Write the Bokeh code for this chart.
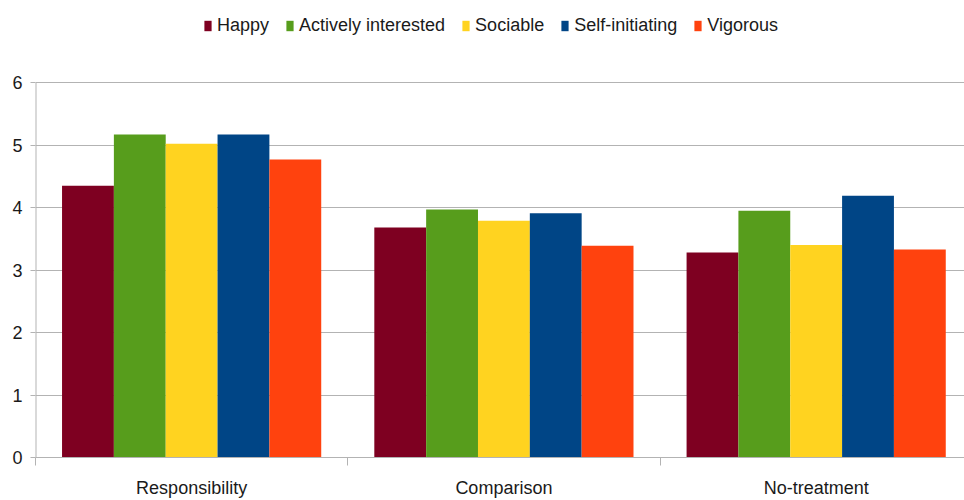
from bokeh.plotting import figure
from bokeh.models import ColumnDataSource, FixedTicker, Range1d, Legend, LegendItem
from bokeh.transform import dodge
from bokeh.embed import file_html
from bokeh.resources import INLINE

# Mean ratings per treatment group
categories = ["Responsibility", "Comparison", "No-treatment"]
series = ["Happy", "Actively interested", "Sociable", "Self-initiating", "Vigorous"]
happy = [4.35, 3.68, 3.28]
actively_interested = [5.17, 3.97, 3.95]
sociable = [5.02, 3.79, 3.40]
self_initiating = [5.17, 3.91, 4.19]
vigorous = [4.77, 3.39, 3.33]
y_ticks = [0, 1, 2, 3, 4, 5, 6]

colors = ["#7e0021", "#579d1c", "#ffd320", "#004586", "#ff420e"]
FONT = "Liberation Sans, Arial, sans-serif"
TEXT = "#1a1a1a"
GRID = "#b3b3b3"

source = ColumnDataSource(dict(
    pos=[i + 0.5 for i in range(len(categories))],
    happy=happy,
    actively_interested=actively_interested,
    sociable=sociable,
    self_initiating=self_initiating,
    vigorous=vigorous,
))
columns = ["happy", "actively_interested", "sociable", "self_initiating", "vigorous"]

# The frame reaches the top of the canvas so the legend can sit above the
# value scale; only 0..6 carry ticks and grid lines.
p = figure(width=964, height=500, output_backend="svg", toolbar_location=None,
           x_range=Range1d(0, 2.975), y_range=Range1d(0, 7.312),
           min_border_left=35, min_border_right=0, min_border_top=0,
           min_border_bottom=43)
p.outline_line_color = None
p.background_fill_color = "white"
p.border_fill_color = "white"

bar_w = 0.166
items = []
for j, (col, name, color) in enumerate(zip(columns, series, colors)):
    r = p.vbar(x=dodge("pos", (j - 2) * bar_w, range=p.x_range), top=col, bottom=0,
               width=bar_w, source=source, fill_color=color, line_color=None)
    items.append(LegendItem(label=name, renderers=[r]))

# vertical axis line only over the value scale
p.segment(x0=0, y0=0, x1=0, y1=y_ticks[-1], line_color=GRID, line_width=2)

# y axis
p.yaxis.ticker = FixedTicker(ticks=y_ticks)
p.yaxis.axis_line_color = None
p.yaxis.major_tick_line_color = GRID
p.yaxis.major_tick_out = 5
p.yaxis.major_tick_in = 0
p.yaxis.minor_tick_line_color = None
p.yaxis.major_label_standoff = 8
p.yaxis.major_label_text_font = FONT
p.yaxis.major_label_text_font_size = "18px"
p.yaxis.major_label_text_color = TEXT

# x axis: labels at group centres, separator ticks between groups
p.xaxis.ticker = FixedTicker(ticks=[0.5, 1.5, 2.5], minor_ticks=[0, 1, 2, 3])
p.xaxis.major_label_overrides = {0.5: categories[0], 1.5: categories[1], 2.5: categories[2]}
p.xaxis.axis_line_color = GRID
p.xaxis.major_tick_line_color = None
p.xaxis.major_tick_out = 0
p.xaxis.major_tick_in = 0
p.xaxis.minor_tick_line_color = GRID
p.xaxis.minor_tick_out = 8
p.xaxis.minor_tick_in = 0
p.xaxis.major_label_standoff = 12
p.xaxis.major_label_text_font = FONT
p.xaxis.major_label_text_font_size = "18px"
p.xaxis.major_label_text_color = TEXT

p.xgrid.grid_line_color = None
p.ygrid.grid_line_color = GRID
p.ygrid.grid_line_width = 1

legend = Legend(items=items, orientation="horizontal", location=(168, 421),
                glyph_width=9, glyph_height=13, label_standoff=5, spacing=16,
                padding=0, margin=0, border_line_color=None,
                background_fill_alpha=0,
                label_text_font=FONT, label_text_font_size="18px",
                label_text_color=TEXT)
p.add_layout(legend, "center")

open("out.html", "w").write(file_html(p, INLINE))
